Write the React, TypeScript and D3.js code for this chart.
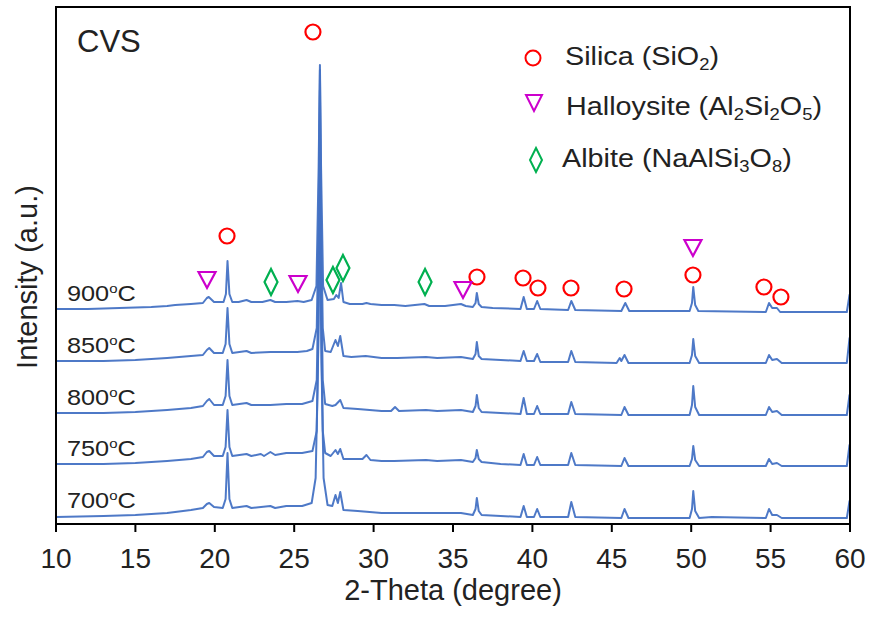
import React from "react";
import * as d3 from "d3";

// 2-Theta (degree), intensity (a.u., relative to each pattern's own baseline)
const xr700: [number, number][] = [
  [10, 6], [13, 7], [15, 8], [17, 10], [18.5, 13], [19.25, 15], [19.5, 19], [19.65, 20], [19.95, 16], [20.5, 15], [20.68, 24],
  [20.8, 70], [20.92, 24], [21.1, 15],
  [22, 17], [22.3, 15], [23.5, 17], [23.8, 15], [24.5, 17], [25.5, 17], [26.1, 20], [26.35, 45], [26.5, 160], [26.62, 380],
  [26.72, 160], [26.85, 45], [27.1, 18], [27.4, 17], [27.6, 28], [27.75, 20], [27.9, 31], [28.1, 13], [29, 12], [30.5, 10],
  [31.3, 10], [33.3, 10], [35.5, 10], [36.25, 8], [36.42, 14], [36.5, 25], [36.62, 12], [36.8, 8], [38, 7], [39.25, 6],
  [39.45, 17], [39.65, 6], [40.1, 6], [40.3, 14], [40.5, 6], [42.25, 6], [42.45, 21], [42.7, 6], [45.6, 5], [45.8, 14],
  [46.05, 5], [49.9, 5], [50.05, 14], [50.13, 32], [50.25, 12], [50.5, 5], [51.3, 6], [54.7, 5], [54.9, 14], [55.1, 8],
  [55.4, 8], [55.7, 5], [59.8, 5], [59.97, 22], [60, 22],
];
const xr750: [number, number][] = [
  [10, 7], [13, 7], [15, 8], [17, 10], [18.5, 12], [19.25, 14], [19.5, 19], [19.65, 20], [19.95, 15], [20.5, 15], [20.68, 24],
  [20.8, 61], [20.92, 24], [21.1, 15],
  [22, 17], [22.3, 15], [22.9, 17], [23.1, 15], [23.5, 19], [23.8, 16], [24.5, 18], [25.5, 18], [26.15, 20], [26.42, 40],
  [26.54, 150], [26.62, 350], [26.69, 150], [26.8, 40], [26.95, 18], [27.3, 15], [27.6, 21], [27.75, 17], [27.9, 22],
  [28.1, 12], [29.3, 12], [29.55, 16], [29.8, 11], [30.5, 10], [31.3, 10], [33.3, 11], [34, 10], [35.5, 11], [36.25, 9],
  [36.42, 13], [36.5, 21], [36.62, 12], [36.8, 9], [38, 7], [39.25, 6], [39.45, 17], [39.65, 6], [40.1, 6], [40.3, 14],
  [40.5, 6], [42.25, 6], [42.45, 18], [42.7, 6], [45.6, 5], [45.8, 13], [46.05, 5], [49.9, 5], [50.05, 12], [50.13, 25],
  [50.25, 11], [50.5, 5], [54.7, 5], [54.9, 12], [55.1, 7], [55.4, 8], [55.7, 5], [59.8, 5], [59.97, 26], [60, 26],
];
const xr800: [number, number][] = [
  [10, 7], [13, 7], [15, 8], [17, 10], [18.5, 12], [19.25, 14], [19.5, 19], [19.65, 21], [19.95, 15], [20.5, 15], [20.68, 24],
  [20.8, 60], [20.92, 24], [21.1, 15],
  [22, 17], [22.3, 15], [23.5, 15], [24.5, 16], [25.5, 16], [26.15, 19], [26.42, 40], [26.54, 150], [26.62, 330],
  [26.69, 150], [26.8, 40], [26.95, 16], [27.4, 14], [27.6, 15], [27.9, 20], [28.1, 12], [29, 11], [30.5, 9], [31.1, 9],
  [31.35, 13], [31.6, 9], [33.3, 10], [34, 9], [35.5, 10], [36.25, 8], [36.42, 14], [36.5, 25], [36.62, 12], [36.8, 8],
  [38, 7], [39.25, 6], [39.45, 22], [39.65, 6], [40.1, 6], [40.3, 14], [40.5, 6], [42.25, 6], [42.45, 18], [42.7, 6],
  [45.6, 5], [45.8, 13], [46.05, 5], [49.9, 5], [50.05, 15], [50.13, 34], [50.25, 13], [50.5, 5], [54.7, 5], [54.9, 13],
  [55.1, 8], [55.4, 9], [55.7, 5], [59.8, 5], [59.97, 25], [60, 25],
];
const xr850: [number, number][] = [
  [10, 7], [13, 7], [15, 8], [17, 10], [18.5, 12], [19.25, 13], [19.5, 18], [19.65, 20], [19.95, 15], [20.5, 15], [20.68, 24],
  [20.8, 60], [20.92, 24], [21.1, 15],
  [22, 17], [22.3, 15], [23.5, 16], [24.3, 16], [25.2, 16], [25.8, 17], [26.15, 19], [26.42, 40], [26.54, 150],
  [26.62, 298], [26.69, 150], [26.8, 40], [26.95, 17], [27.3, 16], [27.6, 28], [27.75, 22], [27.9, 32], [28.1, 12],
  [28.6, 11], [29.5, 12], [30.5, 10], [31.5, 10], [33.3, 11], [34, 10], [35.5, 11], [36.25, 9], [36.42, 14], [36.5, 26],
  [36.62, 12], [36.8, 9], [38, 8], [39.25, 7], [39.45, 17], [39.65, 7], [40.1, 7], [40.3, 14], [40.5, 6], [42.25, 6],
  [42.45, 17], [42.7, 6], [45.3, 5], [45.5, 10], [45.6, 7], [45.8, 13], [46.05, 5], [49.9, 5], [50.05, 13], [50.13, 29],
  [50.25, 12], [50.5, 5], [54.7, 5], [54.9, 13], [55.1, 8], [55.4, 9], [55.7, 5], [59.8, 5], [59.97, 30], [60, 30],
];
const xr900: [number, number][] = [
  [10, 7], [12, 7], [14, 8], [16, 9], [17, 10], [17.5, 11], [18.5, 12], [19.25, 13], [19.5, 18], [19.62, 19], [19.95, 14],
  [20.55, 14], [20.7, 22], [20.8, 55], [20.92, 22], [21.1, 14], [21.5, 14], [22.0, 16], [22.3, 14], [23.0, 14], [23.5, 16],
  [23.8, 14], [24.5, 14], [25.2, 15], [25.6, 14], [26.1, 16], [26.4, 30], [26.54, 150], [26.62, 251], [26.69, 150],
  [26.82, 30], [27.1, 16], [27.5, 17], [27.65, 21], [27.8, 18], [27.95, 33], [28.1, 14], [28.5, 12], [29.3, 12],
  [29.55, 13], [29.8, 12], [30.5, 11], [31.3, 11], [32, 10], [33.2, 12], [33.5, 10], [34.5, 10], [35.5, 12], [35.8, 10],
  [36.25, 9], [36.42, 13], [36.5, 23], [36.62, 12], [36.8, 9], [37.5, 8], [39.25, 7], [39.45, 19], [39.65, 7], [40.1, 7],
  [40.3, 15], [40.5, 7], [42.25, 6], [42.45, 15], [42.7, 6], [45.6, 5], [45.85, 13], [46.1, 5], [49.9, 5], [50.05, 13],
  [50.13, 29], [50.25, 11], [50.45, 5], [54.7, 4], [54.9, 13], [55.1, 8], [55.4, 8], [55.6, 4], [59.8, 4], [59.97, 21],
  [60, 22],
];

const temps = ["700", "750", "800", "850", "900"];
const patterns = [xr700, xr750, xr800, xr850, xr900];
const offsets = [0, 52, 103, 155, 207];

const xTicks = [10, 15, 20, 25, 30, 35, 40, 45, 50, 55, 60];

// phase markers: [2-Theta, stacked intensity]
const silicaMarks: [number, number][] = [
  [26.18, 491], [20.77, 287], [36.51, 246], [39.41, 245], [40.35, 235], [42.43, 235], [45.77, 234], [50.11, 248],
  [54.58, 236], [55.65, 226],
];
const halloysiteMarks: [number, number][] = [[19.51, 243], [25.24, 239], [35.63, 233], [50.11, 275]];
const albiteMarks: [number, number][] = [[23.54, 241], [27.44, 243], [28.07, 255], [33.24, 241]];

const FONT = "Arial, 'Liberation Sans', sans-serif";
const BLUE = "#4472C4";
const RED = "#FF0000";
const MAGENTA = "#CC00CC";
const GREEN = "#00B050";

const L = 56, R = 850, T = 7, B = 523;

const tri = (cx: number, cy: number, w = 17, h = 16) =>
  `M${cx - w / 2},${cy - h / 2}L${cx + w / 2},${cy - h / 2}L${cx},${cy + h / 2}Z`;
const dia = (cx: number, cy: number, w = 13, h = 26) =>
  `M${cx},${cy - h / 2}L${cx + w / 2},${cy}L${cx},${cy + h / 2}L${cx - w / 2},${cy}Z`;

export default function App() {
  const x = d3.scaleLinear().domain([10, 60]).range([L, R]);
  const y = d3.scaleLinear().domain([0, 516]).range([B, T]);

  return (
    <svg width={870} height={621} style={{ position: "absolute", left: 0, top: 0, background: "#fff" }} fontFamily={FONT}>
      <rect x={0} y={0} width={870} height={621} fill="#fff" />
      {patterns.map((p, i) => {
        const line = d3
          .line<[number, number]>()
          .x((d) => x(d[0]))
          .y((d) => y(d[1] + offsets[i]));
        return <path key={i} d={line(p) || ""} fill="none" stroke={BLUE} strokeWidth={2} strokeLinejoin="round" opacity={0.95} />;
      })}
      {temps.map((t, i) => (
        <text key={t} transform={`translate(${L + 11},${y(offsets[i] + 15.5)}) scale(1.15,1)`} fontSize={22} fill="#222">
          {t}
          <tspan fontSize={13} dy={-8}>o</tspan>
          <tspan dy={8}>C</tspan>
        </text>
      ))}
      {silicaMarks.map((m, i) => (
        <circle key={"s" + i} cx={x(m[0])} cy={y(m[1])} r={7.5} fill="none" stroke={RED} strokeWidth={2.2} />
      ))}
      {halloysiteMarks.map((m, i) => (
        <path key={"h" + i} d={tri(x(m[0]), y(m[1]))} fill="none" stroke={MAGENTA} strokeWidth={2.2} strokeLinejoin="miter" />
      ))}
      {albiteMarks.map((m, i) => (
        <path key={"a" + i} d={dia(x(m[0]), y(m[1]))} fill="none" stroke={GREEN} strokeWidth={2.2} />
      ))}

      {/* frame */}
      <rect x={L} y={T} width={R - L} height={B + 1 - T} fill="none" stroke="#000" strokeWidth={2} />
      {xTicks.map((t) => (
        <g key={t}>
          <line x1={x(t)} x2={x(t)} y1={B + 1} y2={B + 9} stroke="#000" strokeWidth={2} />
          <text x={x(t)} y={568} textAnchor="middle" fontSize={28} fill="#222">{t}</text>
        </g>
      ))}
      <text x={453} y={600} textAnchor="middle" fontSize={29} fill="#222">2-Theta (degree)</text>
      <text transform="translate(37,277) rotate(-90)" textAnchor="middle" fontSize={29} fill="#222">Intensity (a.u.)</text>
      <text x={77} y={52} fontSize={31} fill="#222">CVS</text>

      {/* legend */}
      <circle cx={533} cy={58} r={7.5} fill="none" stroke={RED} strokeWidth={2} />
      <path d={tri(534, 103, 16, 16)} fill="none" stroke={MAGENTA} strokeWidth={2} />
      <path d={dia(536, 160, 12, 24)} fill="none" stroke={GREEN} strokeWidth={2} />
      <g fontSize={25} fill="#222">
        <text transform="translate(565,65) scale(1.15,1)">
          Silica (SiO<tspan fontSize={16} dy={5}>2</tspan><tspan dy={-5}>)</tspan>
        </text>
        <text transform="translate(566,115) scale(1.15,1)">
          Halloysite (Al<tspan fontSize={16} dy={5}>2</tspan><tspan dy={-5}>Si</tspan><tspan fontSize={16} dy={5}>2</tspan>
          <tspan dy={-5}>O</tspan><tspan fontSize={16} dy={5}>5</tspan><tspan dy={-5}>)</tspan>
        </text>
        <text transform="translate(562,167) scale(1.15,1)">
          Albite (NaAlSi<tspan fontSize={16} dy={5}>3</tspan><tspan dy={-5}>O</tspan><tspan fontSize={16} dy={5}>8</tspan>
          <tspan dy={-5}>)</tspan>
        </text>
      </g>
    </svg>
  );
}
